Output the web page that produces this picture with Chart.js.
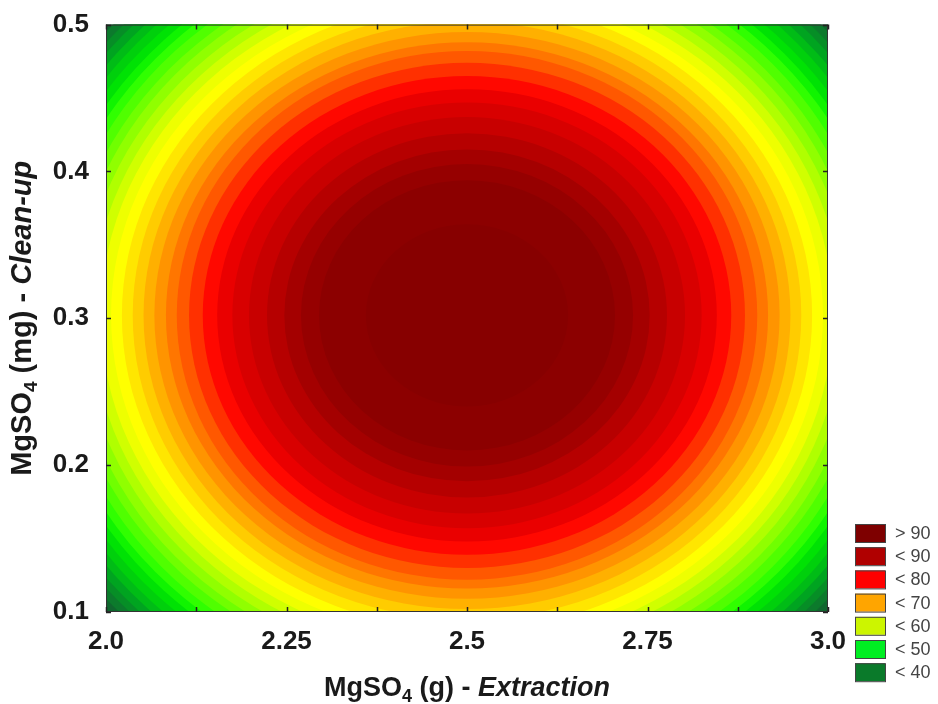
<!DOCTYPE html>
<html>
<head>
<meta charset="utf-8">
<script src="https://cdn.jsdelivr.net/npm/chart.js@4.4.1/dist/chart.umd.min.js"></script>
<style>
  html, body { margin: 0; padding: 0; background: #fff; }
  #wrap { width: 938px; height: 704px; }
</style>
</head>
<body>
<div id="wrap"><canvas id="contour" width="938" height="704"></canvas></div>
<script>
// axis ticks
const xTicks = [2.0, 2.25, 2.5, 2.75, 3.0];
const xTickLabels = ['2.0', '2.25', '2.5', '2.75', '3.0'];
const xMinorTicks = [2.125, 2.375, 2.625, 2.875];
const yTicks = [0.1, 0.2, 0.3, 0.4, 0.5];
const yTickLabels = ['0.1', '0.2', '0.3', '0.4', '0.5'];

// optimum (centre of the contours)
const centreX = 2.5;
const centreY = 0.302;

// contour levels and the half widths of each contour
const levels = [30, 32, 34, 36, 38, 40, 42, 44, 46, 48, 50, 52, 54, 56, 58, 60,
                62, 64, 66, 68, 70, 72, 74, 76, 78, 80, 82, 84, 86, 88, 90, 92];
const radiusX = [0.672, 0.661, 0.651, 0.640, 0.628, 0.617, 0.606, 0.594, 0.583, 0.571, 0.558, 0.546, 0.533, 0.520, 0.507, 0.493,
                 0.478, 0.463, 0.448, 0.433, 0.417, 0.402, 0.385, 0.366, 0.346, 0.325, 0.302, 0.277, 0.253, 0.230, 0.205, 0.140];
const radiusY = [0.300, 0.295, 0.290, 0.286, 0.281, 0.276, 0.270, 0.265, 0.260, 0.255, 0.249, 0.244, 0.238, 0.232, 0.226, 0.220,
                 0.214, 0.207, 0.200, 0.193, 0.186, 0.180, 0.172, 0.163, 0.154, 0.145, 0.135, 0.124, 0.113, 0.103, 0.092, 0.062];

// legend classes
const legendLabels = ['> 90', '< 90', '< 80', '< 70', '< 60', '< 50', '< 40'];

// styles
const outsideColor = '#0e5e2c';
const bandColors = ['#10662e', '#0c7a2c', '#068e26', '#00a420', '#00bc16', '#00d00c', '#00e204', '#10f400',
                    '#30ff00', '#50ff00', '#70ff00', '#90ff00', '#b0ff00', '#d0ff00', '#eeff00', '#ffff00',
                    '#ffe600', '#ffcc00', '#ffb000', '#ff9400', '#ff7600', '#ff5800', '#ff3000', '#ff0800',
                    '#ea0000', '#d80000', '#c80000', '#b60000', '#a40000', '#960000', '#8c0000', '#870000'];
const legendColors = ['#7e0000', '#b00000', '#ff0000', '#ffa500', '#ccf500', '#00ee22', '#0a7a2a'];
const FONT = '"Liberation Sans", Arial, sans-serif';

const contourPlugin = {
    id: 'contour',
    beforeDatasetsDraw(chart) {
        const { ctx, chartArea: a, scales: { x, y } } = chart;
        ctx.save();
        ctx.beginPath();
        ctx.rect(a.left, a.top, a.right - a.left, a.bottom - a.top);
        ctx.clip();
        ctx.fillStyle = outsideColor;
        ctx.fillRect(a.left, a.top, a.right - a.left, a.bottom - a.top);
        const cx = x.getPixelForValue(centreX);
        const cy = y.getPixelForValue(centreY);
        levels.forEach((lv, i) => {
            const rx = Math.abs(x.getPixelForValue(centreX + radiusX[i]) - cx);
            const ry = Math.abs(y.getPixelForValue(centreY + radiusY[i]) - cy);
            ctx.beginPath();
            ctx.ellipse(cx, cy, rx, ry, 0, 0, Math.PI * 2);
            ctx.fillStyle = bandColors[i];
            ctx.fill();
        });
        ctx.restore();
    },
    afterDraw(chart) {
        const { ctx, chartArea: a, scales: { x, y } } = chart;
        ctx.save();
        // frame
        ctx.strokeStyle = '#333';
        ctx.lineWidth = 1;
        ctx.strokeRect(a.left + 0.5, a.top + 0.5, a.right - a.left - 1, a.bottom - a.top - 1);
        // inward tick marks
        ctx.strokeStyle = '#222';
        ctx.lineWidth = 1.5;
        ctx.beginPath();
        xTicks.concat(xMinorTicks).forEach(v => {
            const px = Math.round(x.getPixelForValue(v)) + 0.5;
            ctx.moveTo(px, a.bottom); ctx.lineTo(px, a.bottom - 5);
            ctx.moveTo(px, a.top); ctx.lineTo(px, a.top + 5);
        });
        yTicks.forEach(v => {
            const py = Math.round(y.getPixelForValue(v)) + 0.5;
            ctx.moveTo(a.left, py); ctx.lineTo(a.left + 5, py);
            ctx.moveTo(a.right, py); ctx.lineTo(a.right - 5, py);
        });
        ctx.stroke();

        // axis titles: MgSO4 with subscript, italic part
        const drawTitle = (parts, cxp, cyp, rotate, size) => {
            ctx.save();
            ctx.translate(cxp, cyp);
            if (rotate) ctx.rotate(-Math.PI / 2);
            ctx.fillStyle = '#1a1a1a';
            ctx.textBaseline = 'alphabetic';
            parts.forEach(p => {
                p.font = (p.italic ? 'italic ' : '') + 'bold ' + (p.sub ? Math.round(size * 0.66) : size) + 'px ' + FONT;
            });
            let total = 0;
            parts.forEach(p => {
                ctx.font = p.font;
                total += ctx.measureText(p.t).width;
            });
            let px = -total / 2;
            parts.forEach(p => {
                ctx.font = p.font;
                ctx.fillText(p.t, px, size * 0.37 + (p.sub ? size * 0.22 : 0));
                px += ctx.measureText(p.t).width;
            });
            ctx.restore();
        };
        drawTitle([{ t: 'MgSO' }, { t: '4', sub: true }, { t: ' (g) - ' }, { t: 'Extraction', italic: true }],
            (a.left + a.right) / 2, 686, false, 27);
        drawTitle([{ t: 'MgSO' }, { t: '4', sub: true }, { t: ' (mg) - ' }, { t: 'Clean-up', italic: true }],
            20, (a.top + a.bottom) / 2, true, 29);

        // legend
        legendLabels.forEach((lab, i) => {
            const top = 524 + i * 23.2;
            ctx.fillStyle = legendColors[i];
            ctx.fillRect(855, top, 30, 18);
            ctx.strokeStyle = '#444';
            ctx.lineWidth = 1;
            ctx.strokeRect(855.5, top + 0.5, 30, 18);
            ctx.fillStyle = '#444';
            ctx.font = '18px ' + FONT;
            ctx.textBaseline = 'middle';
            ctx.textAlign = 'left';
            ctx.fillText(lab, 895, top + 10);
        });
        ctx.restore();
    }
};

new Chart(document.getElementById('contour').getContext('2d'), {
    type: 'scatter',
    data: { datasets: [{ data: [], pointRadius: 0 }] },
    options: {
        responsive: false,
        animation: false,
        layout: { padding: { top: 20, right: 110, bottom: 0, left: 0 } },
        plugins: { legend: { display: false }, tooltip: { enabled: false } },
        scales: {
            x: {
                type: 'linear',
                min: 2.0,
                max: 3.0,
                afterBuildTicks: s => { s.ticks = xTicks.map(v => ({ value: v })); },
                afterFit: s => { s.height = 92; },
                grid: { display: false },
                border: { display: false },
                ticks: {
                    autoSkip: false,
                    maxRotation: 0,
                    padding: 6,
                    color: '#1a1a1a',
                    font: { family: FONT, size: 26, weight: 'bold' },
                    callback: (v, i) => xTickLabels[i]
                }
            },
            y: {
                type: 'linear',
                min: 0.1,
                max: 0.5,
                afterBuildTicks: s => { s.ticks = yTicks.map(v => ({ value: v })); },
                afterFit: s => { s.width = 106; },
                grid: { display: false },
                border: { display: false },
                ticks: {
                    autoSkip: false,
                    padding: 9,
                    color: '#1a1a1a',
                    font: { family: FONT, size: 26, weight: 'bold' },
                    callback: (v, i) => yTickLabels[i]
                }
            }
        }
    },
    plugins: [contourPlugin]
});
</script>
</body>
</html>
